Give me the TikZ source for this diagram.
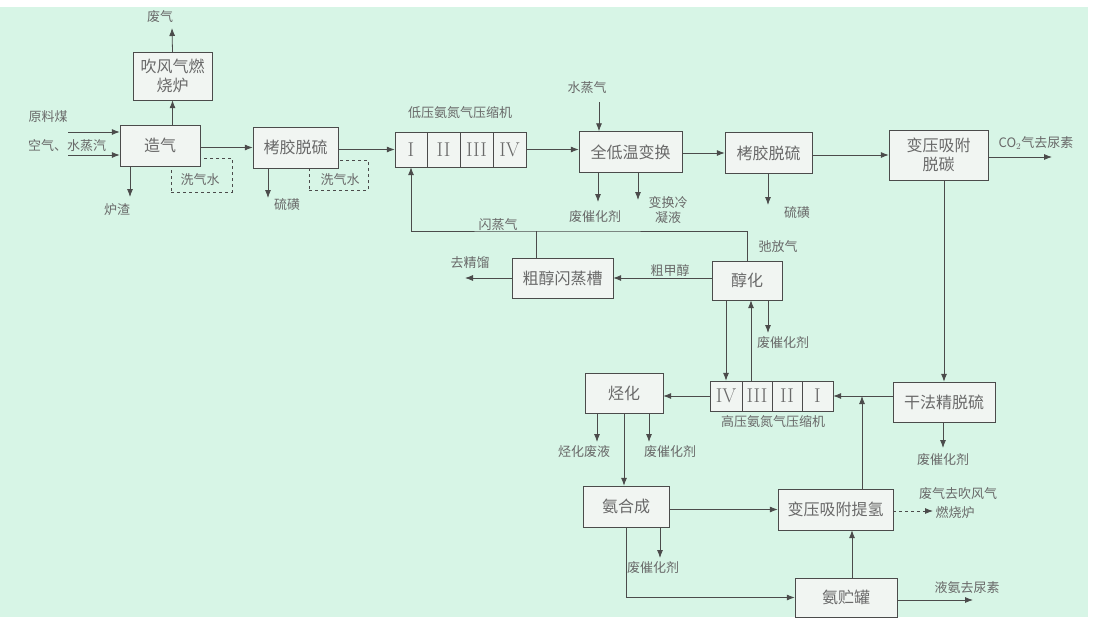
\documentclass[tikz,border=0pt]{standalone}
\usepackage{fontspec}
\newfontfamily\cjk{Noto Sans CJK SC}
\usetikzlibrary{arrows.meta}
\definecolor{bgmint}{RGB}{215,245,230}
\definecolor{boxfill}{RGB}{241,245,242}
\definecolor{linegray}{RGB}{75,75,75}
\definecolor{textgray}{RGB}{105,105,105}

\begin{document}
\begin{tikzpicture}[x=1pt, y=-1pt,
        box/.style = {draw=linegray, fill=boxfill, text=textgray, font=\cjk\fontsize{16}{19}\selectfont, minimum width=#1, minimum height=41pt, inner sep=0pt, align=center},
        cell/.style = {draw=linegray, fill=boxfill, text=textgray, font=\fontsize{20}{21}\selectfont, minimum width=#1, minimum height=35pt, inner sep=0pt},
        wash/.style = {draw=linegray, dashed, minimum width=#1, inner sep=0pt},
        tag/.style = {text=textgray, font=\cjk\fontsize{13}{15}\selectfont, inner sep=0pt, align=center},
        flow/.style = {draw=linegray, line width=0.8pt},
        >={Latex[length=8pt, width=6pt]}
        ]

        \fill[white] (0,0) rectangle (1095,630);
        \fill[bgmint] (0,7) rectangle (1088,617);
        \useasboundingbox (0,0) rectangle (1095,630);

        % wash water loops, boxes are drawn over them
        \node (xs1) at (201.5,175) [wash=61pt, minimum height=34pt] {};
        \node (xs2) at (338.5,175) [wash=59pt, minimum height=30pt] {};

        \node (cf) at (172.5,76)    [box=79pt, minimum height=48pt] {吹风气燃\\烧炉};
        \node (zq) at (160,145.5)   [box=80pt] {造气};
        \node (kj1) at (295.5,147.5) [box=85pt] {栲胶脱硫};
        \node (lp1) at (411,149.5)   [cell=32pt] {I};
        \node (lp2) at (443.5,149.5) [cell=33pt] {II};
        \node (lp3) at (476.5,149.5) [cell=33pt] {III};
        \node (lp4) at (509.5,149.5) [cell=33pt] {IV};
        \node (dw) at (630.5,152)   [box=103pt] {全低温变换};
        \node (kj2) at (768.5,153)  [box=87pt] {栲胶脱硫};
        \node (tt) at (938.5,155)   [box=99pt, minimum height=50pt] {变压吸附\\脱碳};
        \node (cc) at (562.5,278)   [box=101pt, minimum height=40pt] {粗醇闪蒸槽};
        \node (ch) at (747,280.5)   [box=70pt, minimum height=39pt] {醇化};
        \node (hp4) at (726,396)    [cell=32pt, minimum height=30pt] {IV};
        \node (hp3) at (757,396)    [cell=30pt, minimum height=30pt] {III};
        \node (hp2) at (787,396)    [cell=30pt, minimum height=30pt] {II};
        \node (hp1) at (817.5,396)  [cell=31pt, minimum height=30pt] {I};
        \node (th) at (624,393)     [box=78pt, minimum height=40pt] {烃化};
        \node (gf) at (944,402)     [box=102pt, minimum height=40pt] {干法精脱硫};
        \node (ah) at (626,506.5)   [box=86pt] {氨合成};
        \node (tq) at (835.5,509.5) [box=115pt] {变压吸附提氢};
        \node (zg) at (846,597.5)   [box=102pt, minimum height=39pt] {氨贮罐};

        \node (fq) at (160,17)    [tag] {废气};
        \node (ylm) at (48,117)   [tag] {原料煤};
        \node (kq) at (67,146)    [tag] {空气、水蒸汽};
        \node (lz) at (117,210)   [tag] {炉渣};
        \node (xs1t) at (200,180) [tag] {洗气水};
        \node (xs2t) at (340,180) [tag] {洗气水};
        \node (lh1) at (287,205)  [tag] {硫磺};
        \node (lpt) at (460,113)  [tag] {低压氨氮气压缩机};
        \node (sq) at (587,88)    [tag] {水蒸气};
        \node (fc1) at (595,217)  [tag] {废催化剂};
        \node (bh) at (668,210)   [tag] {变换冷\\凝液};
        \node (lh2) at (797,213)  [tag] {硫磺};
        \node (co) at (1036,143)  [tag] {CO$_2$气去尿素};
        \node (sz) at (498,225)   [tag] {闪蒸气};
        \node (cfq) at (778,247)  [tag] {弛放气};
        \node (cjc) at (670,271)  [tag] {粗甲醇};
        \node (jl) at (470,263)   [tag] {去精馏};
        \node (fc2) at (783,343)  [tag] {废催化剂};
        \node (hpt) at (773,422)  [tag] {高压氨氮气压缩机};
        \node (fc3) at (943,460)  [tag] {废催化剂};
        \node (thf) at (584,452)  [tag] {烃化废液};
        \node (fc4) at (670,452)  [tag] {废催化剂};
        \node (fc5) at (653,568)  [tag] {废催化剂};
        \node (fqa) at (958,494)  [tag] {废气去吹风气};
        \node (fqb) at (955,513)  [tag] {燃烧炉};
        \node (ya) at (967,588)   [tag] {液氨去尿素};

        \coordinate (fqE) at (172,28);
        \coordinate (in1) at (68,132);
        \coordinate (in2) at (68,155);
        \coordinate (lzE) at (130,197);
        \coordinate (lh1E) at (268,198);
        \coordinate (sqS) at (599,102);
        \coordinate (fc1E) at (598,202);
        \coordinate (bhE) at (638,200);
        \coordinate (lh2E) at (768,205);
        \coordinate (coE) at (1052,157);
        \coordinate (fl) at (536,231);
        \coordinate (jlE) at (465,277);
        \coordinate (fc2E) at (768,333);
        \coordinate (jn) at (862,396);
        \coordinate (fc3E) at (943,448);
        \coordinate (thfE) at (597,442);
        \coordinate (fc4E) at (649,442);
        \coordinate (fc5E) at (660,558);
        \coordinate (fqE2) at (933,511);
        \coordinate (yaE) at (973,600);

        \draw[flow, ->] (cf.south |- zq.north) -- (cf.south);
        \draw[flow, ->] (cf.north) -- (fqE);
        \draw[flow, ->] (in1) -- (in1 -| zq.west);
        \draw[flow, ->] (in2) -- (in2 -| zq.west);
        \draw[flow, ->] (lzE |- zq.south) -- (lzE);
        \draw[flow, ->] (zq.east |- kj1) -- (kj1.west);
        \draw[flow, ->] (lh1E |- kj1.south) -- (lh1E);
        \draw[flow, ->] (kj1.east |- lp1) -- (lp1.west);
        \draw[flow, ->] (lp4.east) -- (lp4.east -| dw.west);
        \draw[flow, ->] (sqS) -- (sqS |- dw.north);
        \draw[flow, ->] (fc1E |- dw.south) -- (fc1E);
        \draw[flow, ->] (bhE |- dw.south) -- (bhE);
        \draw[flow, ->] (dw.east |- kj2) -- (kj2.west);
        \draw[flow, ->] (lh2E |- kj2.south) -- (lh2E);
        \draw[flow, ->] (kj2.east |- tt) -- (tt.west);
        \draw[flow, ->] (tt.east |- coE) -- (coE);
        \draw[flow, ->] (tt.south -| gf) -- (gf.north);
        \draw[flow, ->] (fc3E |- gf.south) -- (fc3E);
        \draw[flow, ->] (gf.west |- hp1) -- (hp1.east);
        \draw[flow, ->] (jn |- tq.north) -- (jn);
        \draw[flow, ->] (hp4.west) -- (hp4.west -| th.east);
        \draw[flow, ->] (ch.south -| hp4) -- (hp4.north);
        \draw[flow, ->] ([xshift=-6pt]hp3.north) -- ([xshift=-6pt]hp3.north |- ch.south);
        \draw[flow, ->] (fc2E |- ch.south) -- (fc2E);
        \draw[flow, ->] (ch.west |- cc) -- (cc.east);
        \draw[flow, ->] (cc.west) -- (cc.west -| jlE);
        \draw[flow, ->] (ch.north) |- (fl) -| (lp1.south);
        \draw[flow] (fl |- cc.north) -- (fl);
        \draw[flow, ->] (thfE |- th.south) -- (thfE);
        \draw[flow, ->] (fc4E |- th.south) -- (fc4E);
        \draw[flow, ->] (th.south) -- (th.south |- ah.north);
        \draw[flow, ->] (ah.east |- tq) -- (tq.west);
        \draw[flow, dashed, ->] (tq.east |- fqE2) -- (fqE2);
        \draw[flow, ->] (fc5E |- ah.south) -- (fc5E);
        \draw[flow, ->] (ah.south) |- (zg.west);
        \draw[flow, ->] ([xshift=6pt]zg.north) -- ([xshift=6pt]zg.north |- tq.south);
        \draw[flow, ->] (zg.east |- yaE) -- (yaE);

    \end{tikzpicture}
\end{document}
